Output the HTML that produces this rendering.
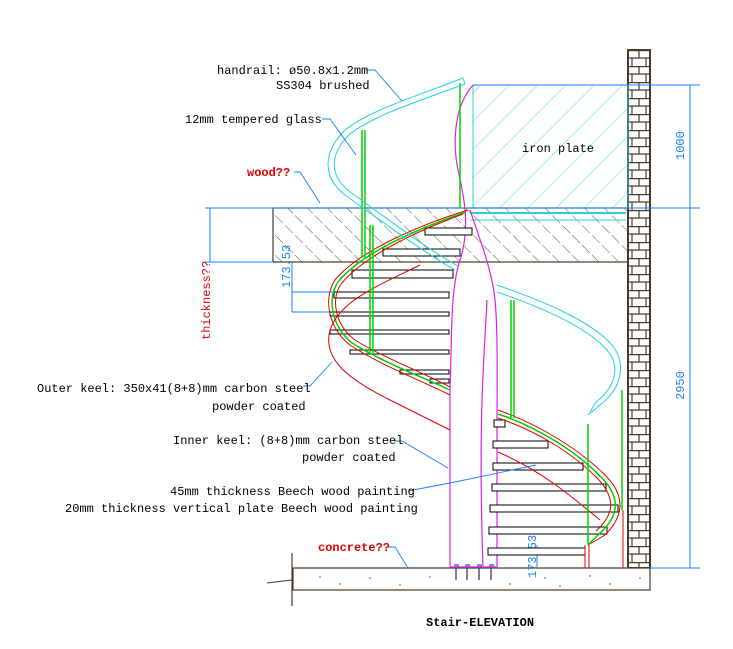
<!DOCTYPE html>
<html><head><meta charset="utf-8"><style>
html,body{margin:0;padding:0;background:#fff;}
svg{display:block}
text{font-family:"Liberation Mono","DejaVu Sans Mono",monospace;font-size:12px;}
</style></head><body>
<svg width="733" height="649" viewBox="0 0 733 649" xmlns="http://www.w3.org/2000/svg">
<defs>
<pattern id="hw" width="14" height="14" patternUnits="userSpaceOnUse" patternTransform="rotate(-45)">
<line x1="0" y1="0" x2="0" y2="14" stroke="#3a2a1a" stroke-width="0.8" stroke-dasharray="8,3"/>
</pattern>
<pattern id="hc" width="20" height="20" patternUnits="userSpaceOnUse" patternTransform="rotate(45)">
<line x1="0" y1="0" x2="0" y2="20" stroke="#22d0e0" stroke-width="0.8"/>
</pattern>
<pattern id="brick" width="22" height="16" patternUnits="userSpaceOnUse" x="628" y="50">
<rect width="22" height="16" fill="#fff"/>
<line x1="0" y1="0" x2="22" y2="0" stroke="#4a3a2a" stroke-width="2.5"/>
<line x1="0" y1="8" x2="22" y2="8" stroke="#4a3a2a" stroke-width="1.2"/>
<line x1="11" y1="0" x2="11" y2="8" stroke="#4a3a2a" stroke-width="1.2"/>
<line x1="4" y1="8" x2="4" y2="16" stroke="#4a3a2a" stroke-width="1.2"/>
<line x1="18" y1="8" x2="18" y2="16" stroke="#4a3a2a" stroke-width="1.2"/>
</pattern>
</defs>

<rect x="628" y="50" width="22" height="518" fill="url(#brick)" stroke="#4a3a2a" stroke-width="2"/>

<rect x="473" y="85" width="155" height="123" fill="url(#hc)" stroke="#22d0e0"/>
<text x="522" y="152">iron plate</text>

<rect x="273" y="208" width="355" height="54" fill="url(#hw)" stroke="#4a3a2a" stroke-width="1.2"/>
<line x1="470" y1="213" x2="626" y2="213" stroke="#22d0e0" stroke-width="2"/>
<line x1="470" y1="220" x2="626" y2="220" stroke="#22d0e0"/>

<rect x="293" y="568" width="357" height="22" fill="#fff" stroke="#4a3a2a" stroke-width="1.2"/>
<line x1="292" y1="553" x2="292" y2="606" stroke="#4a3a2a" stroke-width="1.2"/>
<polyline points="267,583 292,580 292,583" fill="none" stroke="#4a3a2a"/>
<g fill="#4a3a2a">
<circle cx="320" cy="577" r="0.7"/><circle cx="340" cy="584" r="0.7"/><circle cx="370" cy="578" r="0.7"/><circle cx="400" cy="585" r="0.7"/><circle cx="430" cy="577" r="0.7"/><circle cx="510" cy="584" r="0.7"/><circle cx="545" cy="578" r="0.7"/><circle cx="560" cy="586" r="0.7"/><circle cx="590" cy="576" r="0.7"/><circle cx="610" cy="584" r="0.7"/><circle cx="640" cy="578" r="0.7"/>
</g>
<g stroke="#555" stroke-width="1.5">
<line x1="456" y1="566" x2="456" y2="580"/><line x1="467" y1="566" x2="467" y2="580"/><line x1="479" y1="566" x2="479" y2="580"/><line x1="491" y1="566" x2="491" y2="580"/>
</g>
<g fill="#7a8af0"><rect x="454" y="564" width="5" height="3"/><rect x="465" y="564" width="5" height="3"/><rect x="477" y="564" width="5" height="3"/><rect x="489" y="564" width="5" height="3"/></g>

<g stroke="#1a7fff" fill="none" stroke-width="1">
<line x1="473" y1="85" x2="700" y2="85"/>
<line x1="205" y1="208" x2="700" y2="208"/>
<line x1="650" y1="568" x2="700" y2="568"/>
<line x1="690" y1="85" x2="690" y2="568"/>
<line x1="210" y1="208" x2="210" y2="262"/>
<line x1="205" y1="262" x2="273" y2="262"/>
<line x1="292" y1="262" x2="292" y2="312"/>
<line x1="292" y1="292" x2="340" y2="292"/>
<line x1="292" y1="312" x2="340" y2="312"/>
<line x1="537" y1="545" x2="537" y2="568"/>
</g>
<text x="0" y="0" fill="#1a7fff" transform="translate(684,160) rotate(-90)">1000</text>
<text x="0" y="0" fill="#1a7fff" transform="translate(684,400) rotate(-90)">2950</text>
<text x="0" y="0" fill="#1a7fff" transform="translate(290,288) rotate(-90)">173.53</text>
<text x="0" y="0" fill="#1a7fff" transform="translate(536,578) rotate(-90)">173.53</text>

<g stroke="#e020e0" fill="none" stroke-width="1.2">
<path d="M473,85 C455,105 452,140 458,170 C465,200 470,230 460,260 C450,290 452,340 450,390 L450,568"/>
<path d="M470,210 C480,240 492,270 495,300 C498,330 497,380 497,430 L497,568"/>
<path d="M487,300 C484,360 478,420 483,568"/>
<line x1="450" y1="567" x2="497" y2="567"/>
</g>

<g fill="#fff" stroke="#000" stroke-width="1">
<rect x="425" y="228" width="47" height="7"/>
<rect x="383" y="249" width="77" height="7"/>
<rect x="352" y="270" width="101" height="8"/>
<rect x="334" y="292" width="115" height="6"/>
<rect x="330" y="312" width="119" height="4"/>
<rect x="330" y="330" width="119" height="4"/>
<rect x="350" y="350" width="99" height="4"/>
<rect x="400" y="370" width="49" height="4"/>
<rect x="430" y="379" width="19" height="4"/>
</g>
<g fill="#fff" stroke="#000" stroke-width="1">
<rect x="494" y="420" width="11" height="7"/>
<rect x="493" y="441" width="55" height="7"/>
<rect x="493" y="463" width="90" height="7"/>
<rect x="492" y="484" width="114" height="7"/>
<rect x="490" y="505" width="128" height="7"/>
<rect x="489" y="527" width="118" height="7"/>
<rect x="488" y="548" width="97" height="7"/>
</g>

<g fill="none" stroke-width="1">
<path d="M468,210 C420,225 360,250 335,280 C322,300 330,330 350,345 C380,365 420,380 450,395" stroke="#e00000"/>
<path d="M466,212 C420,228 362,252 338,282 C326,300 333,328 352,343 C382,362 420,376 450,390" stroke="#00d000" stroke-width="1.5"/>
<path d="M463,214 C420,230 366,254 341,284 C330,300 336,326 355,340 C384,358 422,372 450,387" stroke="#e00000"/>
<path d="M420,265 C380,285 340,300 330,330 C322,360 350,380 390,400 C420,415 440,425 450,430" stroke="#e00000"/>
<path d="M498,410 C540,425 580,450 605,475 C625,495 625,515 605,535 L588,545" stroke="#e00000"/>
<path d="M498,414 C540,428 578,453 602,478 C620,497 620,515 600,533 L588,545" stroke="#00d000" stroke-width="1.5"/>
<path d="M498,418 C540,432 576,456 599,480 C615,498 615,514 596,531" stroke="#e00000"/>
<path d="M498,452 C540,470 570,495 600,520" stroke="#e00000"/>
<line x1="585" y1="545" x2="585" y2="568" stroke="#e00000"/>
<line x1="589" y1="545" x2="589" y2="568" stroke="#e00000"/>
<line x1="623" y1="510" x2="623" y2="568" stroke="#e00000"/>
</g>

<g stroke="#00d000" stroke-width="1.5">
<line x1="362" y1="130" x2="362" y2="258"/>
<line x1="365" y1="130" x2="365" y2="258"/>
<line x1="370" y1="225" x2="370" y2="355"/>
<line x1="373" y1="225" x2="373" y2="355"/>
<line x1="460" y1="83" x2="460" y2="208"/>
<line x1="511" y1="300" x2="511" y2="418"/>
<line x1="514" y1="300" x2="514" y2="418"/>
<line x1="588" y1="424" x2="588" y2="545"/>
<line x1="622" y1="390" x2="622" y2="510"/>
</g>

<g fill="none" stroke="#22d0e0" stroke-width="1">
<path d="M463,78 C420,95 370,110 345,130 C325,150 320,175 345,195 C380,220 420,250 455,270"/>
<path d="M465,84 C422,100 374,115 350,134 C331,152 327,174 350,192 C384,216 422,246 458,266"/>
<path d="M463,78 L465,84"/>
<path d="M497,285 C540,300 590,320 612,345 C628,365 620,390 600,405 L588,415"/>
<path d="M497,292 C538,306 586,326 607,350 C622,368 614,388 596,402 L590,412"/>
</g>

<g fill="none" stroke="#1a7fff" stroke-width="0.9">
<polyline points="366,70 375,70 402,101"/>
<polyline points="322,119 330,119 356,155"/>
<polyline points="294,172 300,172 320,203"/>
<polyline points="303,386 310,386 332,362"/>
<polyline points="395,441 402,441 448,468"/>
<polyline points="408,491 455,482 536,465"/>
<polyline points="388,547 395,547 408,568"/>
</g>

<text x="217" y="74">handrail: ø50.8x1.2mm</text>
<text x="276" y="89">SS304 brushed</text>
<text x="185" y="123">12mm tempered glass</text>
<text x="247" y="176" fill="#e00000" font-weight="bold">wood??</text>
<text x="0" y="0" fill="#e00000" transform="translate(210,340) rotate(-90)">thickness??</text>
<text x="37" y="392">Outer keel: 350x41(8+8)mm carbon steel</text>
<text x="212" y="410">powder coated</text>
<text x="173" y="444">Inner keel: (8+8)mm carbon steel</text>
<text x="302" y="461">powder coated</text>
<text x="170" y="495">45mm thickness Beech wood painting</text>
<text x="65" y="512">20mm thickness vertical plate Beech wood painting</text>
<text x="318" y="551" fill="#e00000" font-weight="bold">concrete??</text>
<text x="426" y="626" font-weight="bold">Stair-ELEVATION</text>
</svg>
</body></html>
